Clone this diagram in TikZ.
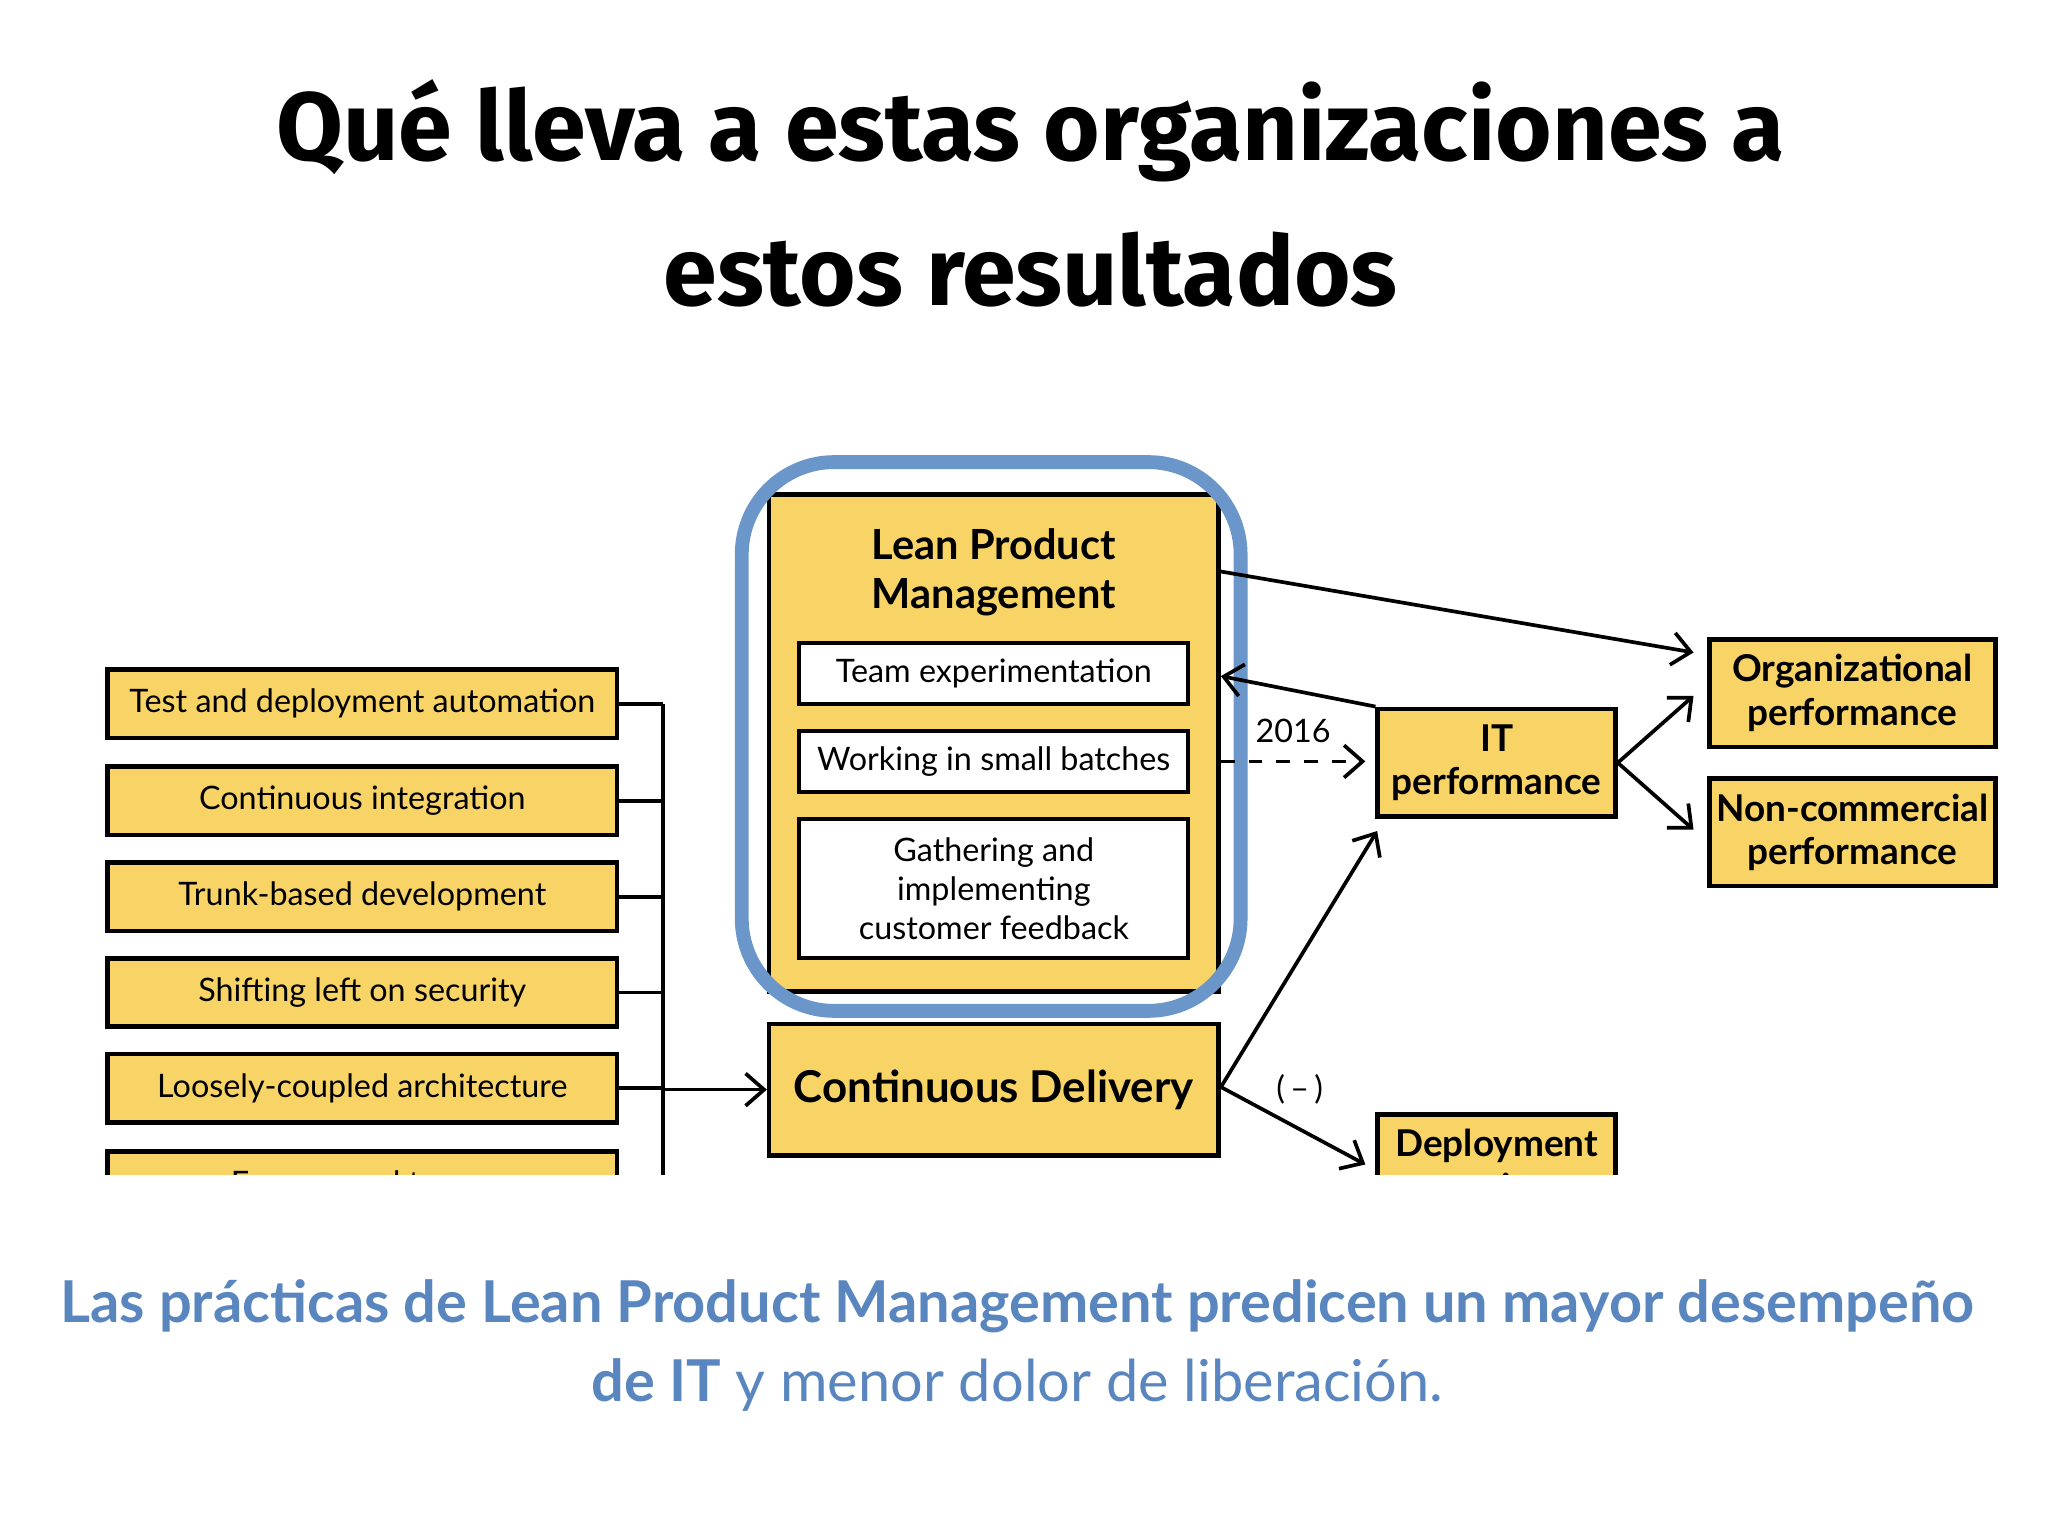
\documentclass[tikz,border=0pt]{standalone}
\usepackage{fontspec}
\setmainfont{Lato}
\newfontfamily\titlefont{Fira Sans}
\usetikzlibrary{arrows.meta}
\definecolor{ybox}{HTML}{F8D466}
\definecolor{bblue}{HTML}{6B96C9}
\definecolor{tblue}{HTML}{5A86BF}
\tikzset{
 yb/.style={draw=black,line width=1pt,fill=ybox,inner sep=0pt,font=\fontsize{7}{8.4}\selectfont,align=center},
 wb/.style={draw=black,line width=0.9pt,fill=white,inner sep=0pt,font=\fontsize{7}{8.4}\selectfont,align=center},
 arr/.style={-{Straight Barb[length=4pt,width=7pt]},line width=0.8pt},
 ln/.style={line width=0.8pt}
}
\begin{document}
\begin{tikzpicture}[x=0.01cm,y=-0.01cm]
\useasboundingbox[fill=white] (0,0) rectangle (1560,1170);
\node[font=\titlefont\bfseries\fontsize{21}{26}\selectfont] (t1) at (785,100) {Qué lleva a estas organizaciones a};
\node[font=\titlefont\bfseries\fontsize{21}{26}\selectfont] (t2) at (785,205) {estos resultados};
\begin{scope}
\clip (0,300) rectangle (1560,895);
\foreach \n/\y/\t in {a/536/Test and deployment automation, b/610/Continuous integration, c/683/Trunk-based development, d/756/Shifting left on security, e/829/Loosely-coupled architecture, f/903/Empowered teams}{
 \node[yb,minimum width=3.88cm,minimum height=0.52cm] (\n) at (276,\y) {\t};
 \draw[ln] (\n.east) -- (505,\y);
}
\draw[ln] (505,536) -- (505,900);
\node[yb,minimum width=3.42cm,minimum height=3.78cm] (lpm) at (757,566) {};
\node[font=\bfseries\fontsize{9}{10.5}\selectfont,align=center] (lpmt) at (757,436) {Lean Product\\Management};
\node[wb,minimum width=2.96cm,minimum height=0.46cm] (w1) at (757,513) {Team experimentation};
\node[wb,minimum width=2.96cm,minimum height=0.46cm] (w2) at (757,580) {Working in small batches};
\node[wb,minimum width=2.96cm,minimum height=1.06cm] (w3) at (757,677) {Gathering and\\implementing\\customer feedback};
\draw[bblue,line width=3pt,rounded corners=20pt] (565,352) rectangle (945,770);
\node[yb,minimum width=3.42cm,minimum height=1.0cm,font=\bfseries\fontsize{9.5}{11}\selectfont] (cd) at (757,830) {Continuous Delivery};
\coordinate (j) at (505,830);
\draw[arr] (j) -- (cd.west);
\node[yb,minimum width=1.81cm,minimum height=0.82cm,font=\bfseries\fontsize{8}{9.5}\selectfont] (it) at (1140,581) {IT\\performance};
\node[yb,minimum width=2.18cm,minimum height=0.82cm,font=\bfseries\fontsize{8}{9.5}\selectfont] (org) at (1411,528) {Organizational\\performance};
\node[yb,minimum width=2.18cm,minimum height=0.82cm,font=\bfseries\fontsize{8}{9.5}\selectfont] (nc) at (1411,634) {Non-commercial\\performance};
\node[yb,minimum width=1.81cm,minimum height=0.82cm,font=\bfseries\fontsize{8}{9.5}\selectfont,anchor=north] (dep) at (1140,847) {Deployment\\pain};
\draw[arr] (928,435) -- (1290,497);
\draw[arr] (it.north west) -- (930,515);
\draw[arr,dashed] (930,580) -- (1040,580);
\node[font=\fontsize{7}{8}\selectfont] (y16) at (985,557) {2016};
\draw[arr] (930,828) -- (1049,633);
\draw[arr] (930,828) -- (1040,887);
\node[font=\fontsize{7}{8}\selectfont] (neg) at (990,830) {(\,–\,)};
\draw[arr] (it.east) -- (1290,530);
\draw[arr] (it.east) -- (1290,632);
\end{scope}
\node[tblue,font=\bfseries\fontsize{12.5}{15}\selectfont] (b1) at (775,995) {Las prácticas de Lean Product Management predicen un mayor desempeño};
\node[tblue,font=\fontsize{12.5}{15}\selectfont] (b2) at (775,1055) {\textbf{de IT} {\fontseries{l}\selectfont y menor dolor de liberación.}};
\end{tikzpicture}
\end{document}
